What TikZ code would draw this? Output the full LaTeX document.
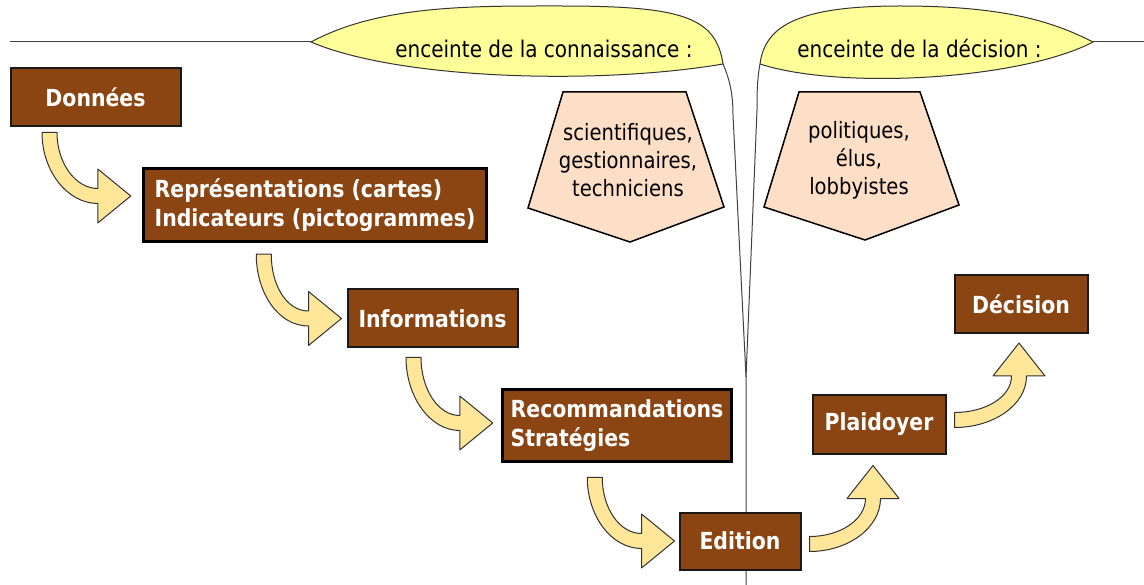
\documentclass[tikz,border=0pt]{standalone}
\usepackage{fontspec}
\setmainfont[FakeStretch=0.87]{DejaVu Sans}
\usetikzlibrary{calc}

\definecolor{brun}{RGB}{139,69,19}
\definecolor{jaunefl}{RGB}{255,230,153}
\definecolor{jaunefe}{RGB}{255,255,153}
\definecolor{peche}{RGB}{253,222,198}

\newcommand{\flechebas}[5]{%
  \coordinate (fq0) at ($(#1.south west)+(#3,#4)$);
  \coordinate (fq1) at ($(#2.west)+(#5)$);
  \coordinate (fqb) at ($(fq1)+(-33,0)$);
  \filldraw[fleche] ($(fq0)+(-7.5,0)$) -- ($(fq0)+(7.5,0)$)
    .. controls ($(fq0)+(7.5,31)$) and ($(fqb)+(-22,-7.5)$) .. ($(fqb)+(0,-7.5)$)
    -- ($(fqb)+(0,-27)$) -- (fq1) -- ($(fqb)+(0,27)$) -- ($(fqb)+(0,7.5)$)
    .. controls ($(fqb)+(-30,7.5)$) and ($(fq0)+(-7.5,39)$) .. ($(fq0)+(-7.5,0)$) -- cycle;
}
\newcommand{\flechehaut}[4]{%
  \coordinate (fq0) at ($(#1.east)+(#3)$);
  \coordinate (fq1) at ($(#2.south)+(#4)$);
  \coordinate (fqb) at ($(fq1)+(0,33)$);
  \filldraw[fleche] ($(fq0)+(0,-7.5)$)
    .. controls ($(fq0)+(31,-7.5)$) and ($(fqb)+(-7.5,21)$) .. ($(fqb)+(-7.5,0)$)
    -- ($(fqb)+(-26,0)$) -- (fq1) -- ($(fqb)+(26,0)$) -- ($(fqb)+(7.5,0)$)
    .. controls ($(fqb)+(7.5,29)$) and ($(fq0)+(39,7.5)$) .. ($(fq0)+(0,7.5)$) -- cycle;
}

\begin{document}
\begin{tikzpicture}[x=1pt, y=-1pt,
    boite/.style={draw=black!90, line width=2pt, fill=brun, text=white, font=\fontsize{23.5}{29}\selectfont\bfseries, align=left, minimum height=58pt},
    boitef/.style={boite, draw=black, line width=3.5pt},
    fleche/.style={draw=black!80, line width=1pt, fill=jaunefl, line join=round},
    feuille/.style={draw=black!80, line width=1pt, fill=jaunefe},
    trait/.style={draw=black!75, line width=1pt},
    penta/.style={draw=black, line width=1.5pt, fill=peche},
    legende/.style={font=\fontsize{23}{28}\selectfont},
    acteurs/.style={font=\fontsize{22.5}{28}\selectfont, align=center}
]
    \useasboundingbox (0,0) rectangle (1144,585);

    \draw[trait] (10,42) -- (311,42);
    \draw[trait] (1093,42) -- (1144,42);
    \filldraw[feuille] (311,42) .. controls (380,5) and (470,6) .. (560,6) .. controls (680,6) and (716,16) .. (723,64) .. controls (600,85) and (400,80) .. (311,42) -- cycle;
    \filldraw[feuille] (760,64) .. controls (765,25) and (800,6) .. (900,6) .. controls (1000,6) and (1050,20) .. (1093,42) .. controls (1020,80) and (840,90) .. (760,64) -- cycle;
    \draw[trait] (723,64) .. controls (730,80) and (733,95) .. (733,115) -- (746,377) -- (746,585);
    \draw[trait] (760,64) .. controls (757,80) and (757,95) .. (757,110) -- (746,377);

    \node[legende, anchor=base] (enceinteC) at (544,58) {enceinte de la connaissance :};
    \node[legende, anchor=base] (enceinteD) at (919.5,58) {enceinte de la décision :};

    \filldraw[penta] (563,92) -- (686,92) -- (724,207) -- (630,242) -- (528,208) -- cycle;
    \filldraw[penta] (799,92) -- (920,92) -- (959,205) -- (865,240) -- (764,207) -- cycle;
    \node[acteurs] (savants) at (628,160) {scientifiques,\\gestionnaires,\\techniciens};
    \node[acteurs] (decideurs) at (859,160) {politiques,\\élus,\\lobbyistes};

    \node[boite, minimum width=170pt] (donnees) at (95.5,97.5) {Données};
    \node[boitef, minimum width=343pt, minimum height=73pt] (repres) at (315,205) {Représentations (cartes)\\Indicateurs (pictogrammes)};
    \node[boite, minimum width=170pt] (infos) at (432.5,318.5) {Informations};
    \node[boitef, minimum width=229pt, minimum height=72pt] (recom) at (617,425.5) {Recommandations\\Stratégies};
    \node[boite, minimum width=121pt, minimum height=57pt] (edition) at (740,541) {Edition};
    \node[boite, minimum width=133pt] (plaid) at (879,424.5) {Plaidoyer};
    \node[boite, minimum width=133pt] (decision) at (1021,304) {Décision};

    \flechebas{donnees}{repres}{40}{5}{-11,-9}
    \flechebas{repres}{infos}{122}{11}{-5,0}
    \flechebas{infos}{recom}{67}{9}{-8,-2.5}
    \flechebas{recom}{edition}{94}{14}{-4,0}
    \flechehaut{edition}{plaid}{8,3}{-6,11}
    \flechehaut{plaid}{decision}{8,-4.5}{-2,9}
\end{tikzpicture}
\end{document}
